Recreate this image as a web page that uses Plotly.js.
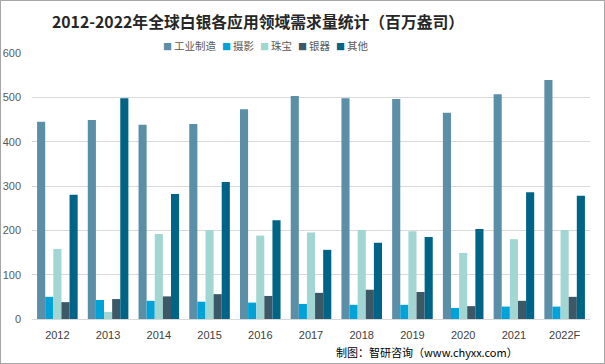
<!DOCTYPE html>
<html><head><meta charset="utf-8">
<script src="https://cdn.plot.ly/plotly-3.0.1.min.js"></script>
<style>
body{margin:0;padding:0;background:#fff;}
#wrap{position:relative;width:605px;height:364px;}
#chart{width:605px;height:364px;}
#frame{position:absolute;left:0;top:0;width:605px;height:364px;box-sizing:border-box;border:1px solid #a6a6a6;pointer-events:none;}
</style></head>
<body>
<div id="wrap"><div id="chart"></div><div id="frame"></div></div>
<script>
const years = ['2012','2013','2014','2015','2016','2017','2018','2019','2020','2021','2022F'];
const industrial = [445, 449, 438, 440, 473, 503, 498, 496, 465, 507, 539];
const photography = [50, 43, 41, 39, 37, 34, 32, 32, 25, 28, 28];
const jewelry = [158, 16, 192, 201, 188, 195, 201, 198, 149, 180, 201];
const silverware = [38, 45, 51, 56, 52, 59, 66, 61, 29, 41, 50];
const other = [280, 498, 282, 309, 223, 156, 172, 185, 203, 286, 278];
const seriesNames = ['工业制造','摄影','珠宝','银器','其他'];
const colors = ['#5b8fa8','#00a2da','#a2d6d3','#3c5867','#006487'];
const allData = [industrial, photography, jewelry, silverware, other];

const traces = allData.map((vals, i) => ({
  type: 'bar', name: seriesNames[i], x: years, y: vals,
  marker: {color: colors[i], line: {width: 0}},
  hoverinfo: 'x+y+name', showlegend: false
}));

// legend drawn as annotations (compact Excel-style legend)
const legendX = [161, 220, 258, 296, 334];
const legendAnn = seriesNames.map((n, i) => ({
  text: '<span style="color:' + colors[i] + ';font-size:9px">■ </span>' + n,
  xref: 'paper', yref: 'paper',
  x: (legendX[i] - 32) / 558, y: (319 - 45) / 266,
  xanchor: 'left', yanchor: 'middle', showarrow: false,
  font: {size: 10.5, color: '#595959', family: '"Noto Sans CJK SC", sans-serif'}
}));

const layout = {
  width: 605, height: 364,
  margin: {l: 32, r: 15, t: 53, b: 45},
  paper_bgcolor: '#fff', plot_bgcolor: '#fff',
  font: {family: '"Noto Sans CJK SC", "Microsoft YaHei", sans-serif', color: '#595959'},
  title: {text: '<b>2012-2022年全球白银各应用领域需求量统计（百万盎司）</b>',
    font: {size: 15.8, color: '#262626', family: '"Noto Sans CJK SC", sans-serif'},
    x: 258 / 605, xref: 'container', xanchor: 'center', y: 1 - 22 / 364, yref: 'container', yanchor: 'middle'},
  barmode: 'group', bargap: 0.2, bargroupgap: 0,
  showlegend: false,
  xaxis: {type: 'category', showgrid: false, showline: true, linecolor: '#d9d9d9', linewidth: 1,
    ticks: '', tickfont: {size: 11, color: '#404040', family: 'Liberation Sans, Arial, sans-serif'}, ticklabelstandoff: 6},
  yaxis: {range: [0, 600], dtick: 100, showgrid: true, gridcolor: '#d9d9d9', gridwidth: 1,
    zeroline: false, showline: false, ticks: '',
    tickfont: {size: 11, color: '#595959', family: 'Liberation Sans, Arial, sans-serif'}, ticklabelstandoff: 10},
  annotations: legendAnn.concat([
    {text: '制图：智研咨询（www.chyxx.com）', xref: 'paper', yref: 'paper', x: (520 - 32) / 558, y: (319 - 352) / 266,
     xanchor: 'right', yanchor: 'middle', showarrow: false,
     font: {size: 11, color: '#000', family: '"Noto Sans CJK SC", sans-serif'}}
  ])
};

Plotly.newPlot('chart', traces, layout, {displayModeBar: false, staticPlot: true});
</script>
</body></html>
